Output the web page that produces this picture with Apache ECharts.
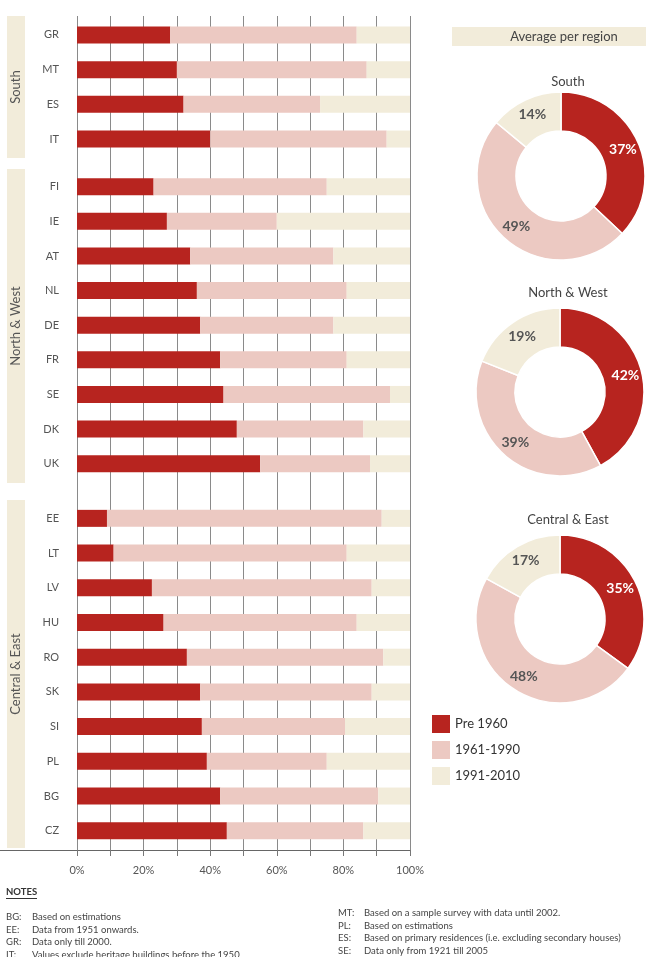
<!DOCTYPE html>
<html>
<head>
<meta charset="utf-8" />
<title>Dwelling stock by construction period</title>
<style>
html, body { margin: 0; padding: 0; background: #fff; }
#main { width: 648px; height: 957px; }
</style>
</head>
<body>
<div id="main"></div>
<script src="https://cdn.jsdelivr.net/npm/echarts@6/dist/echarts.min.js"></script>
<script>
// periods
var periods = ['Pre 1960', '1961-1990', '1991-2010'];
var colors = ['#B7241F', '#ECC9C2', '#F2ECDA'];

// South
var southCountries = ['GR', 'MT', 'ES', 'IT'];
var southPre = [28, 30, 32, 40];
var southMid = [56, 57, 41, 53];
var southNew = [16, 13, 27, 7];

// North & West
var nwCountries = ['FI', 'IE', 'AT', 'NL', 'DE', 'FR', 'SE', 'DK', 'UK'];
var nwPre = [23, 27, 34, 36, 37, 43, 44, 48, 55];
var nwMid = [52, 33, 43, 45, 40, 38, 50, 38, 33];
var nwNew = [25, 40, 23, 19, 23, 19, 6, 14, 12];

// Central & East
var ceCountries = ['EE', 'LT', 'LV', 'HU', 'RO', 'SK', 'SI', 'PL', 'BG', 'CZ'];
var cePre = [9, 11, 22.5, 26, 33, 37, 37.5, 39, 43, 45];
var ceMid = [82.5, 70, 66, 58, 59, 51.5, 43, 36, 47.5, 41];
var ceNew = [8.5, 19, 11.5, 16, 8, 11.5, 19.5, 25, 9.5, 14];

// regional averages (pre, mid, new)
var regionNames = ['South', 'North & West', 'Central & East'];
var avgSouth = [37, 49, 14];
var avgNW = [42, 39, 19];
var avgCE = [35, 48, 17];

var xTicks = [0, 20, 40, 60, 80, 100];

var notesLeft = [
  ['BG:', 'Based on estimations'],
  ['EE:', 'Data from 1951 onwards.'],
  ['GR:', 'Data only till 2000.'],
  ['IT:', 'Values exclude heritage buildings before the 1950']
];
var notesRight = [
  ['MT:', 'Based on a sample survey with data until 2002.'],
  ['PL:', 'Based on estimations'],
  ['ES:', 'Based on primary residences (i.e. excluding secondary houses)'],
  ['SE:', 'Data only from 1921 till 2005']
];

var FONT = 'Lato, "Open Sans", sans-serif';
var chart = echarts.init(document.getElementById('main'), null, {renderer: 'canvas'});

// grids: 0 = background with gridlines + bottom axis, 1..3 = regions
var grids = [
  {left: 77, width: 333, top: 16, height: 834},
  {left: 77, width: 333, top: 17.6, height: 138.8},
  {left: 77, width: 333, top: 169.4, height: 311.6},
  {left: 77, width: 333, top: 501, height: 347.1}
];

var xAxes = [{
  gridIndex: 0, type: 'value', min: 0, max: 100, interval: 10,
  axisLine: {show: true, lineStyle: {color: '#666', width: 1}},
  axisTick: {show: true, length: 6, lineStyle: {color: '#777'}},
  splitLine: {show: true, lineStyle: {color: '#8a8a8a', width: 1}},
  axisLabel: {
    color: '#555', fontSize: 11, fontFamily: FONT, margin: 15,
    formatter: function (v) { return xTicks.indexOf(v) >= 0 ? v + '%' : ''; }
  }
}];
var yAxes = [{gridIndex: 0, type: 'value', show: false}];

var regionCats = [southCountries, nwCountries, ceCountries];
for (var g = 1; g <= 3; g++) {
  xAxes.push({gridIndex: g, type: 'value', min: 0, max: 100, show: false});
  yAxes.push({
    gridIndex: g, type: 'category', inverse: true, data: regionCats[g - 1],
    axisLine: {show: false}, axisTick: {show: false}, splitLine: {show: false},
    axisLabel: {color: '#555', fontSize: 11, fontFamily: FONT, margin: 18}
  });
}

var regionData = [
  [southPre, southMid, southNew],
  [nwPre, nwMid, nwNew],
  [cePre, ceMid, ceNew]
];

var series = [];
for (var r = 0; r < 3; r++) {
  for (var p = 0; p < 3; p++) {
    series.push({
      name: periods[p],
      type: 'bar',
      xAxisIndex: r + 1,
      yAxisIndex: r + 1,
      stack: 'region' + r,
      barWidth: 17,
      itemStyle: {color: colors[p]},
      emphasis: {disabled: true},
      data: regionData[r][p]
    });
  }
}

var avgs = [avgSouth, avgNW, avgCE];
var pieCenters = [[561, 176], [560, 392], [560, 619]];
for (var i = 0; i < 3; i++) {
  series.push({
    type: 'pie',
    center: pieCenters[i],
    radius: [45, 84],
    startAngle: 90,
    clockwise: true,
    avoidLabelOverlap: false,
    itemStyle: {borderColor: '#fff', borderWidth: 1.5},
    label: {
      show: true, position: 'inside', formatter: '{c}%',
      fontSize: 14, fontWeight: 'bold', fontFamily: FONT
    },
    labelLine: {show: false},
    emphasis: {disabled: true},
    data: avgs[i].map(function (v, k) {
      return {
        name: periods[k], value: v,
        itemStyle: {color: colors[k]},
        label: {color: k === 0 ? '#fff' : '#555'}
      };
    })
  });
}

var titleTops = [70, 281, 508];
var titles = regionNames.map(function (n, k) {
  return {
    text: n, left: 563, top: titleTops[k], textAlign: 'center',
    textStyle: {color: '#444', fontSize: 13, fontWeight: 'normal', fontFamily: FONT}
  };
});

// decorations: region boxes, header, notes
var graphics = [];
var boxes = [[16, 142, 87], [169, 314, 326], [500, 348, 674]];
boxes.forEach(function (b, k) {
  graphics.push({type: 'rect', shape: {x: 7, y: b[0], width: 18, height: b[1]}, style: {fill: colors[2]}});
  graphics.push({
    type: 'text', x: 16, y: b[2], rotation: Math.PI / 2,
    style: {text: regionNames[k], align: 'center', verticalAlign: 'middle', fill: '#555', font: '13px ' + FONT}
  });
});
graphics.push({type: 'line', shape: {x1: 0, y1: 850.5, x2: 77, y2: 850.5}, style: {stroke: '#666', lineWidth: 1}});
graphics.push({type: 'rect', shape: {x: 452, y: 27, width: 194, height: 19}, style: {fill: colors[2]}});
graphics.push({
  type: 'text', x: 564, y: 37,
  style: {text: 'Average per region', align: 'center', verticalAlign: 'middle', fill: '#444', font: '13px ' + FONT}
});
graphics.push({
  type: 'text', x: 6, y: 892,
  style: {text: 'NOTES', align: 'left', verticalAlign: 'middle', fill: '#333', font: 'bold 9.5px ' + FONT}
});
graphics.push({type: 'line', shape: {x1: 6, y1: 898.5, x2: 37, y2: 898.5}, style: {stroke: '#333', lineWidth: 1}});
notesLeft.forEach(function (n, k) {
  graphics.push({type: 'text', x: 6, y: 917 + k * 12.5, style: {text: n[0], verticalAlign: 'middle', fill: '#444', font: '9.5px ' + FONT}});
  graphics.push({type: 'text', x: 32, y: 917 + k * 12.5, style: {text: n[1], verticalAlign: 'middle', fill: '#444', font: '9.5px ' + FONT}});
});
notesRight.forEach(function (n, k) {
  graphics.push({type: 'text', x: 338, y: 913 + k * 12.5, style: {text: n[0], verticalAlign: 'middle', fill: '#444', font: '9.5px ' + FONT}});
  graphics.push({type: 'text', x: 364, y: 913 + k * 12.5, style: {text: n[1], verticalAlign: 'middle', fill: '#444', font: '9.5px ' + FONT}});
});

var option = {
  animation: false,
  textStyle: {fontFamily: FONT},
  title: titles,
  legend: {
    data: periods,
    orient: 'vertical',
    left: 427, top: 710,
    itemWidth: 18, itemHeight: 18, itemGap: 8,
    icon: 'rect',
    selectedMode: false,
    textStyle: {color: '#333', fontSize: 13, fontFamily: FONT}
  },
  grid: grids,
  xAxis: xAxes,
  yAxis: yAxes,
  series: series,
  graphic: graphics
};
chart.setOption(option);
</script>
</body>
</html>
